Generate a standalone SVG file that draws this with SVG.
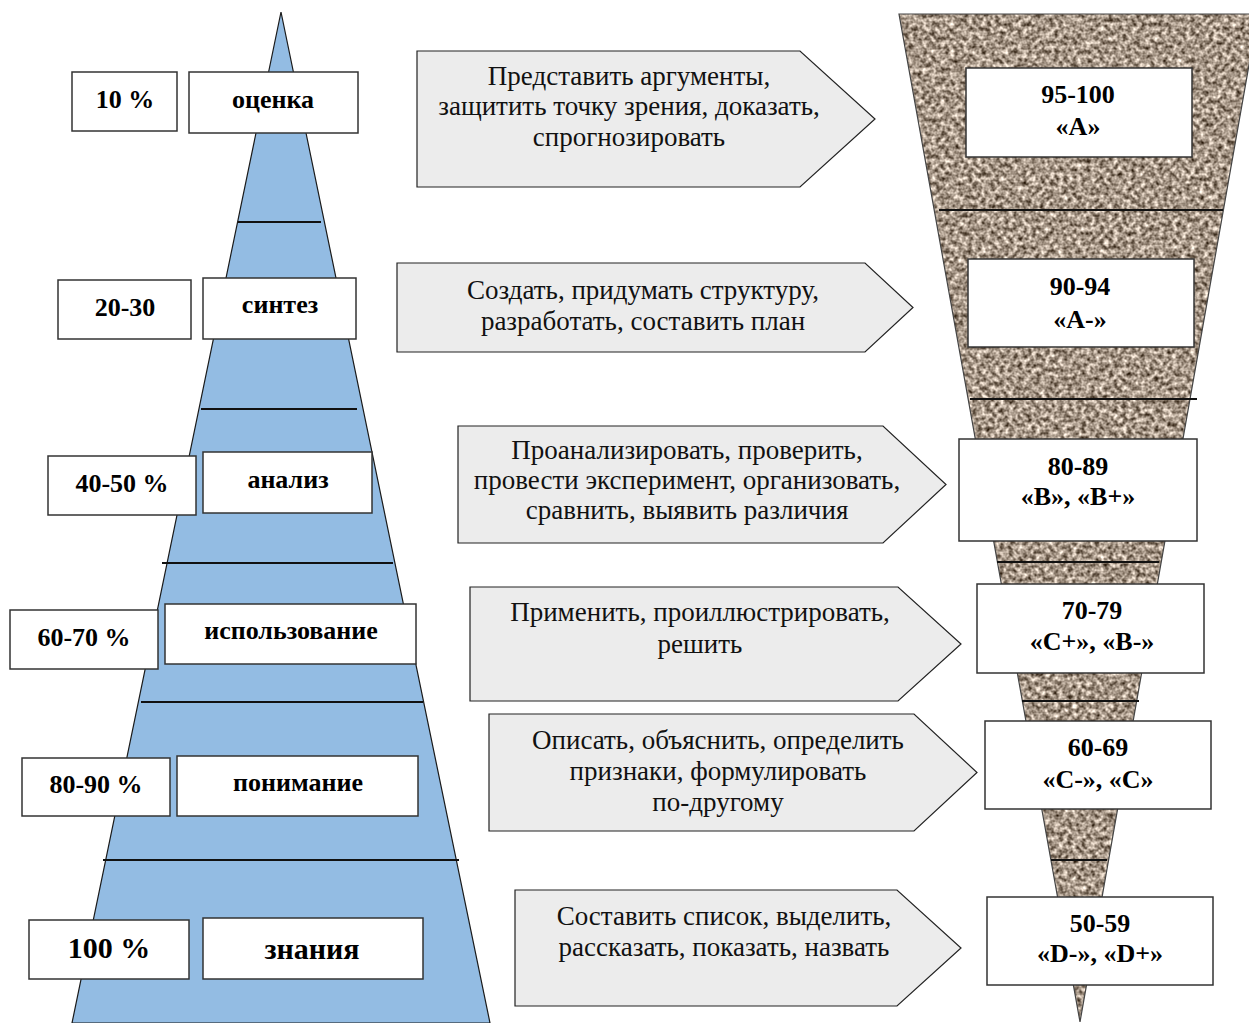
<svg xmlns="http://www.w3.org/2000/svg" width="1249" height="1023" viewBox="0 0 1249 1023">
<style>
.pyr{fill:#93bce3;stroke:#1a1a1a;stroke-width:1.2}
.sep{stroke:#111;stroke-width:2}
.box{fill:#fff;stroke:#333;stroke-width:1.5}
.arr{fill:#ececec;stroke:#222;stroke-width:1.2}
.lb{font-family:"Liberation Serif","Times New Roman",serif;font-weight:bold;font-size:26px;fill:#000;text-anchor:middle}
.lb2{font-size:30px}
.at{font-family:"Liberation Serif","Times New Roman",serif;font-size:27px;fill:#111;text-anchor:middle}
.gr{font-family:"Liberation Serif","Times New Roman",serif;font-weight:bold;font-size:26px;fill:#000;text-anchor:middle}
</style>
<defs>
<filter id="granite" x="0" y="0" width="100%" height="100%" filterUnits="objectBoundingBox" color-interpolation-filters="sRGB">
<feTurbulence type="fractalNoise" baseFrequency="0.22" numOctaves="2" seed="7" result="n"/>
<feColorMatrix in="n" type="matrix" values="1.3 0 0 0 0.0  1.3 0 0 0 -0.06  1.3 0 0 0 -0.12  0 0 0 0 1" result="c"/>
<feComposite in="c" in2="SourceGraphic" operator="in"/>
</filter>
</defs>
<rect width="1249" height="1023" fill="#fff"/>

<g id="pyramid">
<polygon class="pyr" points="281,12 490,1023 72,1023"/>
<line class="sep" x1="238" y1="222" x2="321" y2="222"/>
<line class="sep" x1="201" y1="409" x2="357" y2="409"/>
<line class="sep" x1="162" y1="563" x2="393" y2="563"/>
<line class="sep" x1="141" y1="702" x2="423" y2="702"/>
<line class="sep" x1="103" y1="860" x2="459" y2="860"/>
</g>

<g id="funnel">
<polygon points="899,14 1258,14 1080,1022" fill="#a69a8f" filter="url(#granite)"/>
<polygon points="899,14 1258,14 1080,1022" fill="none" stroke="#444" stroke-width="1.2"/>
<line class="sep" x1="939" y1="210" x2="1223" y2="210"/>
<line class="sep" x1="970" y1="399" x2="1197" y2="399"/>
<line class="sep" x1="997" y1="562" x2="1159" y2="562"/>
<line class="sep" x1="1022" y1="701" x2="1139" y2="701"/>
<line class="sep" x1="1051" y1="860" x2="1107" y2="860"/>
</g>

<g id="level-ocenka">
<rect class="box" x="72" y="72" width="105" height="59"/>
<text class="lb" x="125" y="108">10 %</text>
<rect class="box" x="189" y="72" width="169" height="61"/>
<text class="lb" x="273" y="108">оценка</text>
</g>
<g id="level-sintez">
<rect class="box" x="58" y="280" width="133" height="59"/>
<text class="lb" x="125" y="316">20-30</text>
<rect class="box" x="203" y="278" width="153" height="61"/>
<text class="lb" x="280" y="313">синтез</text>
</g>
<g id="level-analiz">
<rect class="box" x="48" y="456" width="148" height="59"/>
<text class="lb" x="122" y="492">40-50 %</text>
<rect class="box" x="203" y="452" width="169" height="61"/>
<text class="lb" x="288" y="488">анализ</text>
</g>
<g id="level-ispolzovanie">
<rect class="box" x="10" y="610" width="148" height="59"/>
<text class="lb" x="84" y="646">60-70 %</text>
<rect class="box" x="165" y="604" width="251" height="60"/>
<text class="lb" x="291" y="639">использование</text>
</g>
<g id="level-ponimanie">
<rect class="box" x="22" y="758" width="148" height="58"/>
<text class="lb" x="96" y="793">80-90 %</text>
<rect class="box" x="177" y="756" width="241" height="60"/>
<text class="lb" x="298" y="791">понимание</text>
</g>
<g id="level-znaniya">
<rect class="box" x="29" y="920" width="160" height="59"/>
<text class="lb lb2" x="109" y="958">100 %</text>
<rect class="box" x="203" y="918" width="220" height="61"/>
<text class="lb lb2" x="312" y="959">знания</text>
</g>

<g id="arrow-1">
<path class="arr" d="M417,51 H800 L875,119 L800,187 H417 Z"/>
<text class="at"><tspan x="629" y="85">Представить аргументы,</tspan><tspan x="629" y="115">защитить точку зрения, доказать,</tspan><tspan x="629" y="146">спрогнозировать</tspan></text>
</g>
<g id="arrow-2">
<path class="arr" d="M397,263 H865 L913,307.5 L865,352 H397 Z"/>
<text class="at"><tspan x="643" y="299">Создать, придумать структуру,</tspan><tspan x="643" y="330">разработать, составить план</tspan></text>
</g>
<g id="arrow-3">
<path class="arr" d="M458,426 H883 L946,484.5 L883,543 H458 Z"/>
<text class="at"><tspan x="687" y="459">Проанализировать, проверить,</tspan><tspan x="687" y="489">провести эксперимент, организовать,</tspan><tspan x="687" y="519">сравнить, выявить различия</tspan></text>
</g>
<g id="arrow-4">
<path class="arr" d="M470,587 H898 L961,644 L898,701 H470 Z"/>
<text class="at"><tspan x="700" y="621">Применить, проиллюстрировать,</tspan><tspan x="700" y="653">решить</tspan></text>
</g>
<g id="arrow-5">
<path class="arr" d="M489,714 H914 L977,772.5 L914,831 H489 Z"/>
<text class="at"><tspan x="718" y="749">Описать, объяснить, определить</tspan><tspan x="718" y="780">признаки, формулировать</tspan><tspan x="718" y="811">по-другому</tspan></text>
</g>
<g id="arrow-6">
<path class="arr" d="M515,890 H897 L961,948 L897,1006 H515 Z"/>
<text class="at"><tspan x="724" y="925">Составить список, выделить,</tspan><tspan x="724" y="956">рассказать, показать, назвать</tspan></text>
</g>

<g id="grade-a">
<rect class="box" x="966" y="68" width="226" height="89"/>
<text class="gr"><tspan x="1078" y="103">95-100</tspan><tspan x="1078" y="135">«A»</tspan></text>
</g>
<g id="grade-a-minus">
<rect class="box" x="968" y="259" width="226" height="88"/>
<text class="gr"><tspan x="1080" y="295">90-94</tspan><tspan x="1080" y="328">«A-»</tspan></text>
</g>
<g id="grade-b">
<rect class="box" x="959" y="439" width="238" height="102"/>
<text class="gr"><tspan x="1078" y="475">80-89</tspan><tspan x="1078" y="505">«B», «B+»</tspan></text>
</g>
<g id="grade-c-plus">
<rect class="box" x="977" y="584" width="227" height="89"/>
<text class="gr"><tspan x="1092" y="619">70-79</tspan><tspan x="1092" y="650">«C+», «B-»</tspan></text>
</g>
<g id="grade-c">
<rect class="box" x="985" y="721" width="226" height="88"/>
<text class="gr"><tspan x="1098" y="756">60-69</tspan><tspan x="1098" y="788">«C-», «C»</tspan></text>
</g>
<g id="grade-d">
<rect class="box" x="987" y="897" width="226" height="88"/>
<text class="gr"><tspan x="1100" y="932">50-59</tspan><tspan x="1100" y="962">«D-», «D+»</tspan></text>
</g>
</svg>
